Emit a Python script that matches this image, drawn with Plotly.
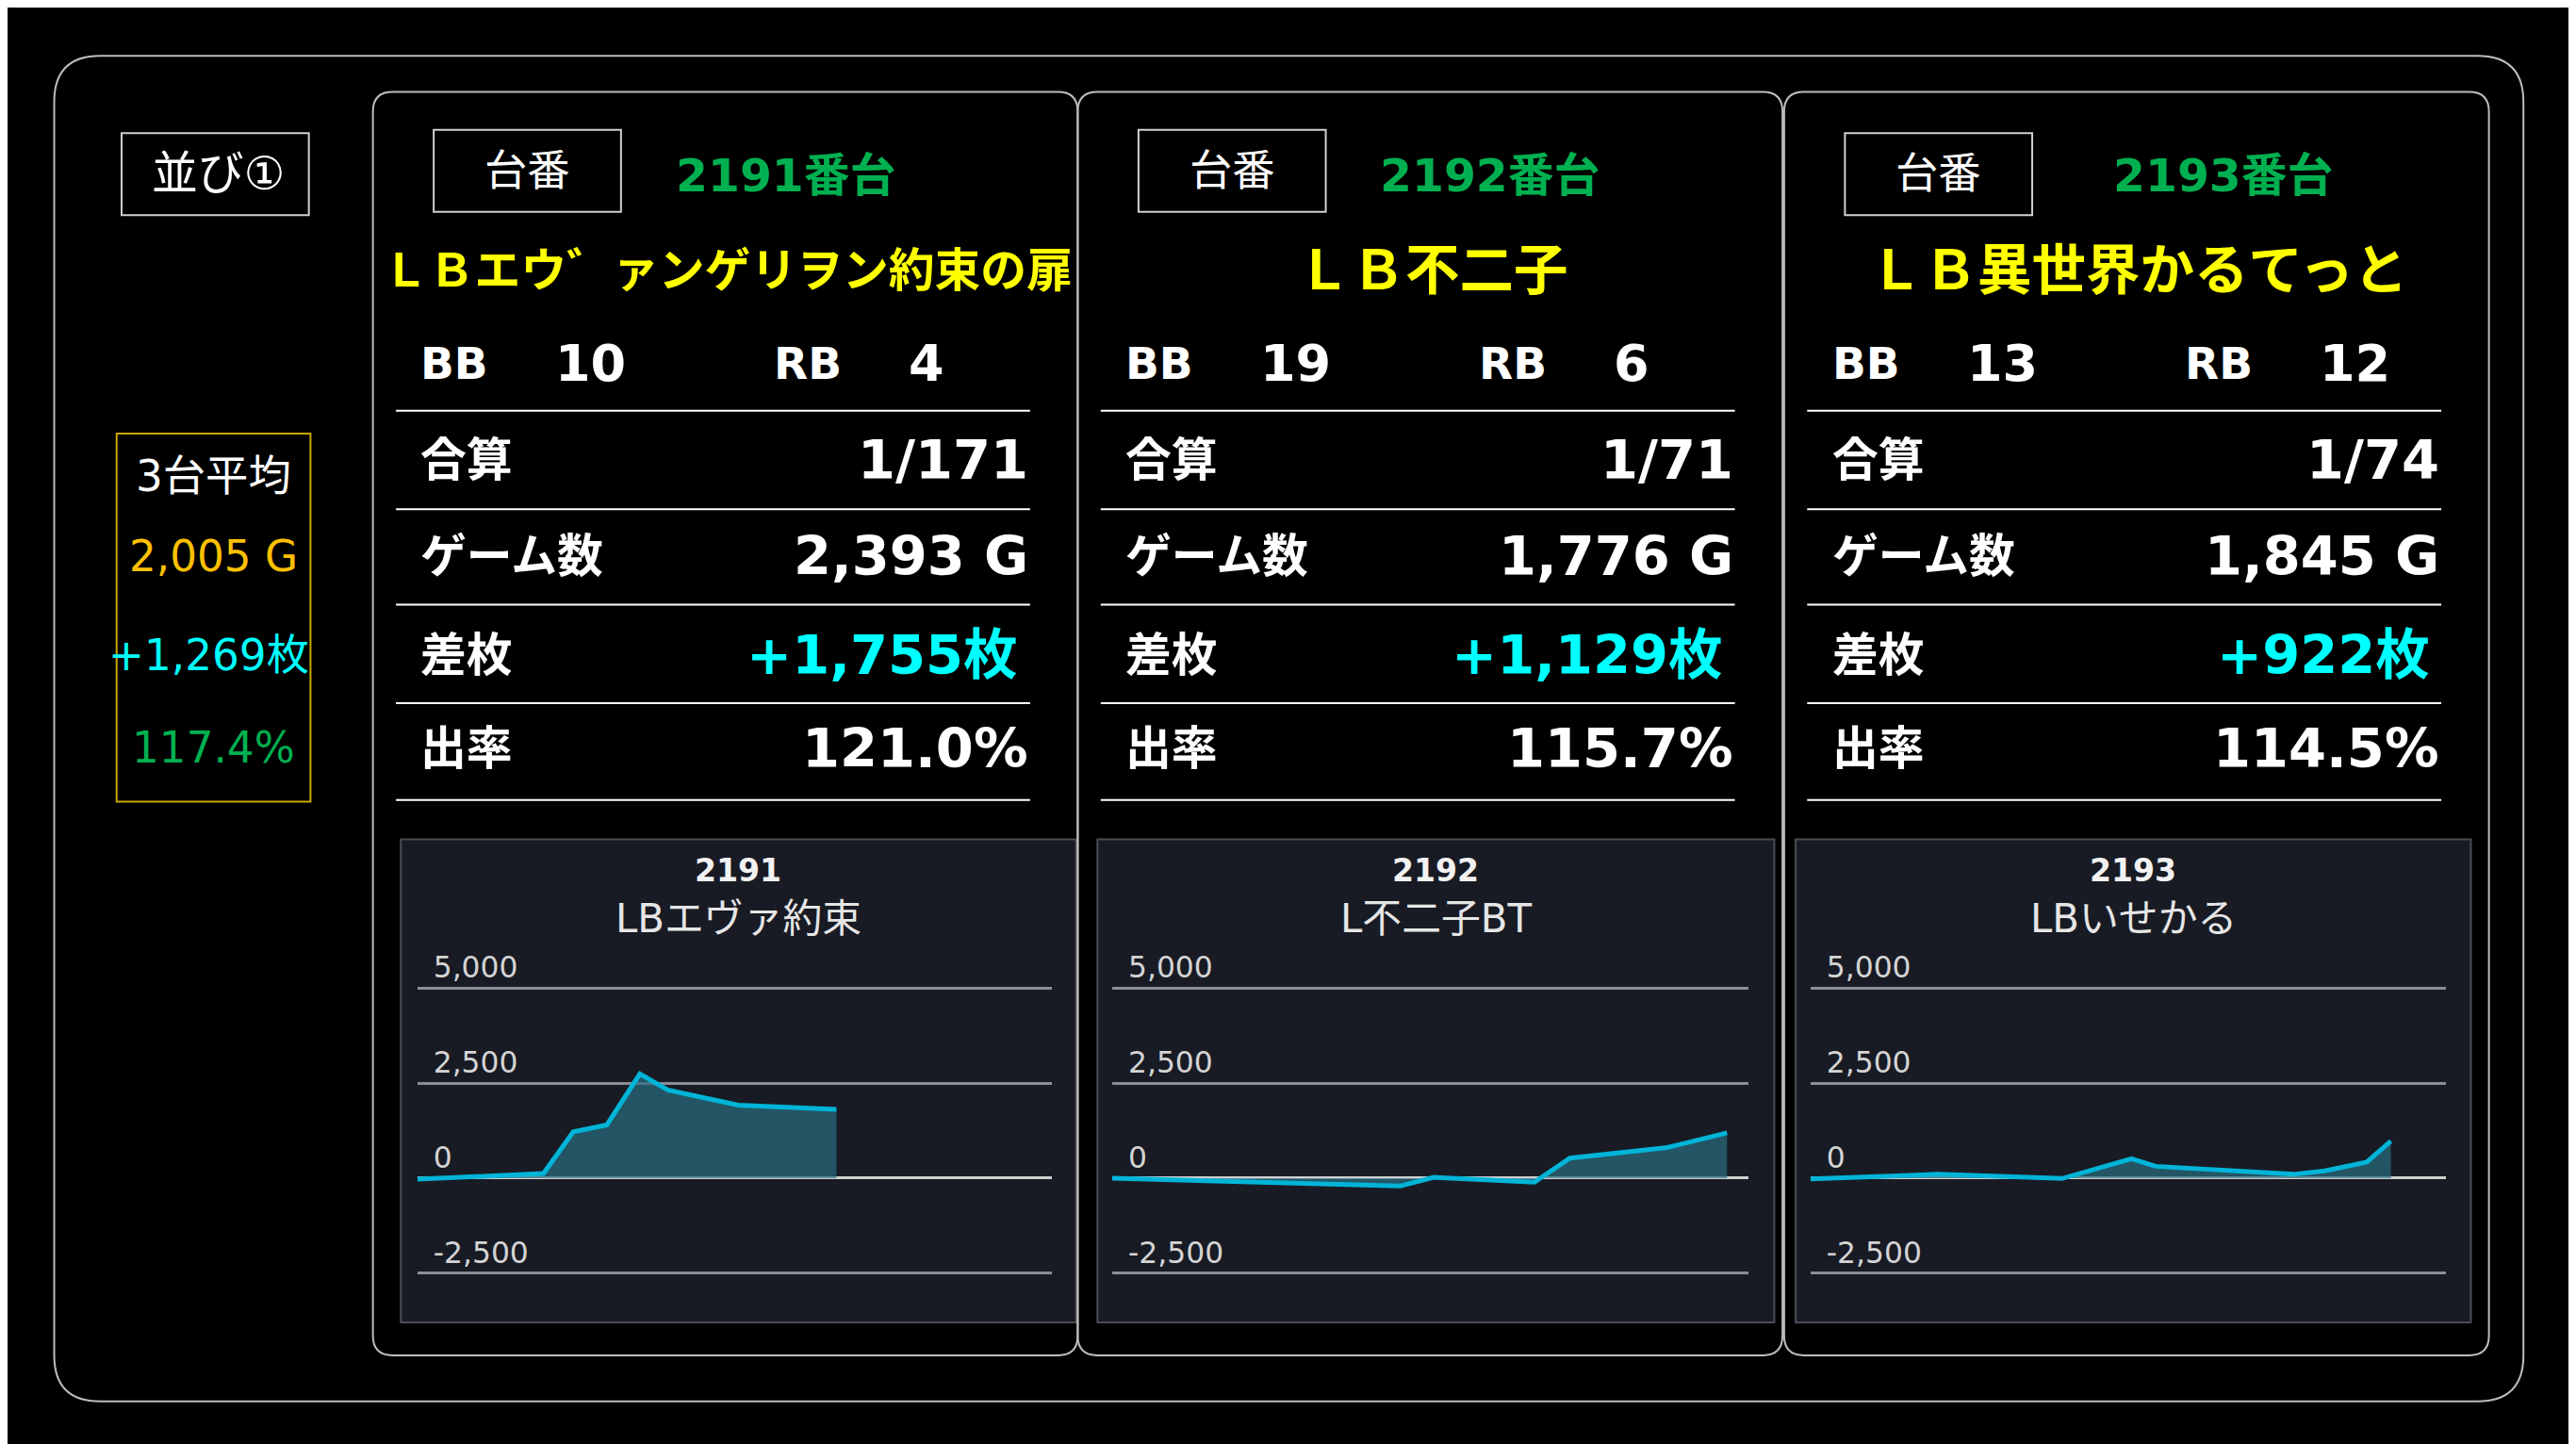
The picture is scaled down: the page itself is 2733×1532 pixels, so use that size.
import plotly.graph_objects as go

# values
machine_ids = ["2191", "2192", "2193"]
titles = ["ＬＢエウ゛ァンゲリヲン約束の扉", "ＬＢ不二子", "ＬＢ異世界かるてっと"]
chart_names = ["LBエヴァ約束", "L不二子BT", "LBいせかる"]
bb_counts = [10, 19, 13]
rb_counts = [4, 6, 12]
combined = ["1/171", "1/71", "1/74"]
games = [2393, 1776, 1845]
diffs = [1755, 1129, 922]
rates = [121.0, 115.7, 114.5]

avg_games = 2005
avg_diff = 1269
avg_rate = 117.4

# slump graphs (x = progress through the day, 0-100)
slump_x = [
    [0, 19.9, 24.6, 29.9, 35.1, 39.5, 50.6, 66.1],
    [0, 45.3, 50.6, 66.4, 72.0, 87.3, 96.7],
    [0, 20.0, 39.6, 50.5, 54.3, 76.0, 80.9, 87.5, 91.3],
]
slump_y = [
    [-30, 120, 1220, 1400, 2740, 2320, 1920, 1810],
    [0, -210, 20, -110, 525, 805, 1190],
    [-20, 100, -10, 510, 310, 100, 190, 420, 975],
]
tick_vals = [-2500, 0, 2500, 5000]
tick_text = ["-2,500", "0", "2,500", "5,000"]

# design grid is 1568 x 879, scaled up to the real canvas
W, H = 1568, 879
S = 2733 / W
OFF = 8 / S  # page body margin pushes the figure 8px right/down
MAIN = "DejaVu Sans, Noto Sans CJK JP"


def X(x):
    return (x - OFF) / W


def Y(y):
    return 1 - (y - OFF) / H


def rrect(x0, y0, x1, y1, r):
    rx, ry = r / W, r / H
    a0, a1, b0, b1 = X(x0), X(x1), Y(y0), Y(y1)
    return (f"M{a0+rx},{b0} L{a1-rx},{b0} Q{a1},{b0} {a1},{b0-ry} "
            f"L{a1},{b1+ry} Q{a1},{b1} {a1-rx},{b1} L{a0+rx},{b1} "
            f"Q{a0},{b1} {a0},{b1+ry} L{a0},{b0-ry} Q{a0},{b0} {a0+rx},{b0} Z")


shapes = []
annotations = []


def box(x0, y0, x1, y1, color, width=2, fill=None, layer="above"):
    shapes.append(dict(type="rect", xref="paper", yref="paper",
                       x0=X(x0), x1=X(x1), y0=Y(y1), y1=Y(y0),
                       line=dict(color=color, width=width),
                       fillcolor=fill, layer=layer))


def hline(x0, x1, y, color="white", width=2):
    shapes.append(dict(type="line", xref="paper", yref="paper",
                       x0=X(x0), x1=X(x1), y0=Y(y), y1=Y(y),
                       line=dict(color=color, width=width)))


def txt(x, y, s, size, color="white", anchor="center", font=MAIN):
    annotations.append(dict(x=X(x), y=Y(y), xref="paper", yref="paper", text=s,
                            showarrow=False, xanchor=anchor, yanchor="middle",
                            font=dict(size=size * S, color=color, family=font)))


# outer frame
shapes.append(dict(type="path", xref="paper", yref="paper", path=rrect(33, 34, 1536, 853, 28),
                   line=dict(color="#bdbdbd", width=2)))

# left column
box(74, 81, 188, 131, "#d0d0d0")
txt(133, 106, "並び①", 28)
box(71, 264, 189, 488, "#c8a800")
txt(130, 290, "3台平均", 26)
txt(130, 339, f"{avg_games:,} G", 26, "#FFC000")
txt(127, 399, f"+{avg_diff:,}枚", 26, "#00FFFF")
txt(130, 455, f"{avg_rate:.1f}%", 26, "#00B050")

panel_left = [227, 656, 1086]
id_box = [(264, 378, 79, 129), (693, 807, 79, 129), (1123, 1237, 81, 131)]
id_cx = [478, 907, 1353]
title_size = [28, 33, 33]
chart_box = [(244, 655), (668, 1080), (1093, 1504)]
plot_dom = [(254, 640), (677, 1064), (1102, 1489)]

fig = go.Figure()

for i in range(3):
    L = panel_left[i]
    shapes.append(dict(type="path", xref="paper", yref="paper",
                       path=rrect(L, 56, L + 429, 825, 12),
                       line=dict(color="#bdbdbd", width=2)))
    bx0, bx1, by0, by1 = id_box[i]
    box(bx0, by0, bx1, by1, "#d0d0d0")
    txt((bx0 + bx1) / 2, (by0 + by1) / 2, "台番", 26)
    txt(id_cx[i], 107, f"<b>{machine_ids[i]}番台</b>", 28, "#00B050")
    txt(L + 216, 165, f"<b>{titles[i]}</b>", title_size[i], "#FFFF00")

    txt(L + 28, 221, "<b>BB</b>", 27, anchor="left")
    txt(L + 110, 221, f"<b>{bb_counts[i]}</b>", 31, anchor="left")
    txt(L + 243, 221, "<b>RB</b>", 27, anchor="left")
    txt(L + 325, 221, f"<b>{rb_counts[i]}</b>", 31, anchor="left")

    rows = [
        (280, "合算", combined[i], "white", L + 400),
        (339, "ゲーム数", f"{games[i]:,} G", "white", L + 400),
        (399, "差枚", f"+{diffs[i]:,}枚", "#00FFFF", L + 394),
        (456, "出率", f"{rates[i]:.1f}%", "white", L + 400),
    ]
    for y, label, value, col, rx in rows:
        txt(L + 28, y, f"<b>{label}</b>", 28, anchor="left")
        txt(rx, y, f"<b>{value}</b>", 33, col, anchor="right")
    for y in [250, 310, 368, 428, 487]:
        hline(L + 14, L + 400, y, "white", 2)

    cx0, cx1 = chart_box[i]
    box(cx0, 511, cx1, 805, "#4a4d55", 2, "#181b24", layer="below")
    txt((cx0 + cx1) / 2, 530, f"<b>{machine_ids[i]}</b>", 19, "#f2f2f2")
    txt((cx0 + cx1) / 2, 559, chart_names[i], 24, "#e6e6e6")

    n = "" if i == 0 else str(i + 1)
    fig.add_trace(go.Scatter(
        x=slump_x[i], y=slump_y[i], mode="lines", fill="tozeroy",
        line=dict(color="#00b4d8", width=5),
        fillcolor="rgba(40,110,130,0.7)",
        xaxis="x" + n, yaxis="y" + n, hoverinfo="skip"))
    px0, px1 = plot_dom[i]
    fig.update_layout({
        "xaxis" + n: dict(domain=[X(px0), X(px1)], range=[0, 100], visible=False,
                          anchor="y" + n),
        "yaxis" + n: dict(domain=[Y(777.3), Y(543.6)], range=[-2600, 7500],
                          anchor="x" + n, tickvals=tick_vals, ticktext=tick_text,
                          ticklabelposition="inside top", ticklabelstandoff=14,
                          tickfont=dict(size=18 * S, color="#d4d4d4", family=MAIN),
                          showgrid=True, gridcolor="#8b8e96", gridwidth=3,
                          zeroline=True, zerolinecolor="#d0d0d0", zerolinewidth=3,
                          showline=False, ticks=""),
    })

fig.update_layout(
    width=2733, height=1532,
    margin=dict(l=0, r=0, t=0, b=0),
    paper_bgcolor="black", plot_bgcolor="rgba(0,0,0,0)",
    showlegend=False,
    shapes=shapes, annotations=annotations,
)

fig.write_html("out.html")
